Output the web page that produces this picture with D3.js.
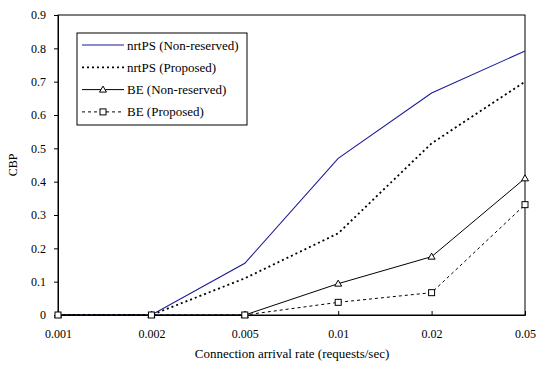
<!DOCTYPE html>
<html>
<head>
<meta charset="utf-8">
<script src="https://cdn.jsdelivr.net/npm/d3@7"></script>
<style>
  body { margin: 0; background: #fff; }
</style>
</head>
<body>
<svg width="539" height="369"></svg>
<script>
const rates = ["0.001", "0.002", "0.005", "0.01", "0.02", "0.05"];
const yTicks = [0, 0.1, 0.2, 0.3, 0.4, 0.5, 0.6, 0.7, 0.8, 0.9];

const nrtpsNonReserved = [0, 0, 0.155, 0.47, 0.666, 0.792];
const nrtpsProposed = [0, 0, 0.11, 0.245, 0.515, 0.70];
const beNonReserved = [0, 0, 0, 0.094, 0.175, 0.41];
const beProposed = [0, 0, 0, 0.038, 0.067, 0.331];

const seriesList = [
    { name: "nrtPS (Non-reserved)", values: nrtpsNonReserved, color: "#1a1a9a", width: 1.1, dash: null, marker: null },
    { name: "nrtPS (Proposed)", values: nrtpsProposed, color: "#000", width: 1.8, dash: "2,3", marker: null },
    { name: "BE (Non-reserved)", values: beNonReserved, color: "#000", width: 1, dash: null, marker: "triangle" },
    { name: "BE (Proposed)", values: beProposed, color: "#000", width: 1, dash: "3,3", marker: "square" }
];

const svg = d3.select("svg");
const margin = { left: 58, right: 14, top: 15, bottom: 54 };
const width = 539, height = 369;
const serif = "'Liberation Serif'";

const x = d3.scalePoint().domain(rates).range([margin.left, width - margin.right]);
const y = d3.scaleLinear().domain([0, 0.9]).range([height - margin.bottom, margin.top]);

// frame
svg.append("rect")
    .attr("x", margin.left).attr("y", margin.top)
    .attr("width", width - margin.right - margin.left)
    .attr("height", height - margin.bottom - margin.top)
    .attr("fill", "none").attr("stroke", "#000").attr("stroke-width", 1);

// y axis
const yAxis = svg.append("g")
    .attr("transform", `translate(${margin.left},0)`)
    .call(d3.axisLeft(y).tickValues(yTicks).tickSize(4).tickPadding(8)
        .tickFormat(d => d === 0 ? "0" : d3.format(".1f")(d)));
yAxis.select(".domain").attr("stroke", "#000");
yAxis.selectAll("text").style("font-family", serif).style("font-size", "12px").attr("fill", "#000");

// x axis
const xAxis = svg.append("g")
    .attr("transform", `translate(0,${height - margin.bottom})`)
    .call(d3.axisBottom(x).tickSize(-4).tickPadding(14));
xAxis.select(".domain").attr("stroke", "#000");
xAxis.selectAll("text").style("font-family", serif).style("font-size", "12px").attr("fill", "#000");

// axis titles
svg.append("text")
    .attr("x", 292)
    .attr("y", 358)
    .attr("text-anchor", "middle")
    .style("font-family", serif).style("font-size", "13px")
    .text("Connection arrival rate (requests/sec)");

svg.append("text")
    .attr("transform", `translate(17,${(margin.top + height - margin.bottom) / 2}) rotate(-90)`)
    .attr("text-anchor", "middle")
    .style("font-family", serif).style("font-size", "12px")
    .text("CBP");

const line = d3.line()
    .x((d, i) => x(rates[i]))
    .y(d => y(d));

function drawMarker(g, type, cx, cy) {
    if (type === "triangle") {
        g.append("path")
            .attr("d", `M${cx},${cy - 3.5}L${cx + 3.5},${cy + 2.5}L${cx - 3.5},${cy + 2.5}Z`)
            .attr("fill", "#fff").attr("stroke", "#000").attr("stroke-width", 1);
    } else if (type === "square") {
        g.append("rect")
            .attr("x", cx - 3).attr("y", cy - 3)
            .attr("width", 6).attr("height", 6)
            .attr("fill", "#fff").attr("stroke", "#000").attr("stroke-width", 1);
    }
}

seriesList.forEach(s => {
    const g = svg.append("g");
    g.append("path")
        .datum(s.values)
        .attr("d", line)
        .attr("fill", "none")
        .attr("stroke", s.color)
        .attr("stroke-width", s.width)
        .attr("stroke-dasharray", s.dash);
    if (s.marker) {
        s.values.forEach((v, i) => drawMarker(g, s.marker, x(rates[i]), y(v)));
    }
});

// legend
const legend = svg.append("g").attr("transform", "translate(77,33)");
legend.append("rect")
    .attr("width", 170).attr("height", 92)
    .attr("fill", "#fff").attr("stroke", "#000").attr("stroke-width", 1);

seriesList.forEach((s, i) => {
    const ly = 12 + i * 22.3;
    legend.append("line")
        .attr("x1", 5).attr("x2", 47)
        .attr("y1", ly).attr("y2", ly)
        .attr("stroke", s.color)
        .attr("stroke-width", s.width)
        .attr("stroke-dasharray", s.dash);
    if (s.marker) drawMarker(legend, s.marker, 26, ly);
    legend.append("text")
        .attr("x", 50).attr("y", ly + 4.5)
        .style("font-family", serif).style("font-size", "13px")
        .text(s.name);
});
</script>
</body>
</html>
